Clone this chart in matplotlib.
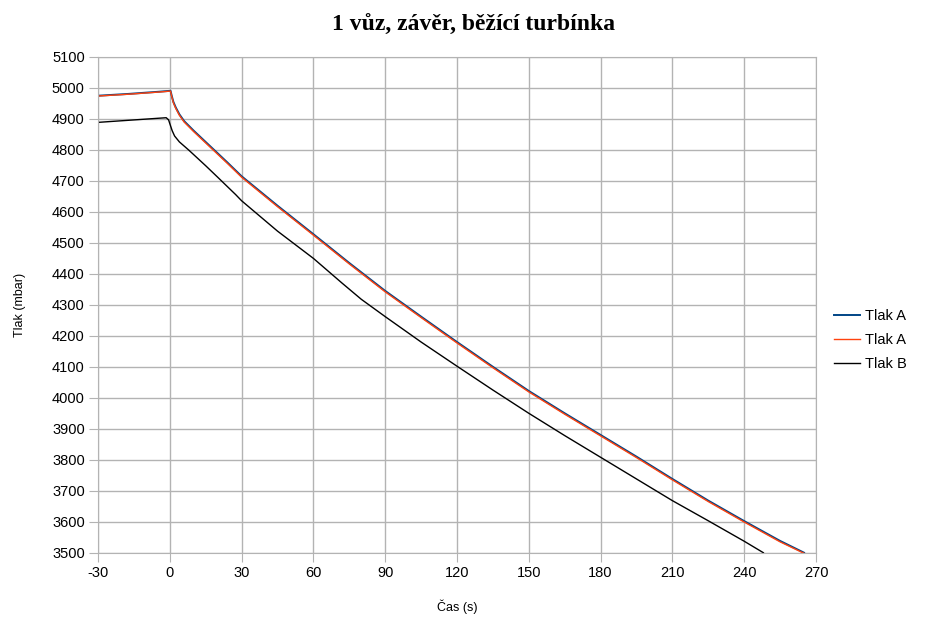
import matplotlib
matplotlib.use("Agg")
import matplotlib.pyplot as plt
import numpy as np

# ---- data ----
t_a = [-30, -17, -4.4, 0.3, 0.8, 1.5, 2.5, 4, 6, 10, 17, 24, 30, 45, 60, 75, 90,
       105, 120, 135, 150, 165, 180, 195, 210, 225, 240, 255, 265]
p_a = [4975, 4981, 4988, 4991, 4975, 4955, 4937, 4915, 4893, 4862, 4811, 4760,
       4715, 4620, 4528, 4435, 4345, 4262, 4180, 4100, 4022, 3950, 3880, 3810,
       3738, 3668, 3602, 3538, 3500]
t_a2 = t_a
p_a2 = [4974, 4980, 4987, 4990, 4973, 4952, 4934, 4912, 4890, 4859, 4808, 4757,
        4712, 4617, 4525, 4432, 4342, 4259, 4177, 4097, 4019, 3947, 3877, 3807,
        3735, 3665, 3599, 3535, 3498]
t_b = [-30, -1.5, -0.5, 0, 1, 2, 4, 8, 15, 20, 27.5, 30, 45, 60, 72, 80, 90, 105,
       120, 135, 150, 165, 180, 195, 210, 225, 240, 248]
p_b = [4889, 4904, 4897, 4885, 4862, 4845, 4826, 4799, 4749, 4712, 4656, 4636,
       4538, 4450, 4370, 4318, 4262, 4180, 4102, 4025, 3950, 3878, 3808, 3738,
       3668, 3603, 3537, 3500]
names = ["Tlak A", "Tlak A", "Tlak B"]
colors = ["#004586", "#ff420e", "#000000"]
x_ticks = list(range(-30, 271, 30))
y_ticks = list(range(3500, 5101, 100))

plt.rcParams['font.family'] = ['Liberation Sans', 'DejaVu Sans']
plt.rcParams['axes.unicode_minus'] = False

fig = plt.figure(figsize=(9.47, 6.18), dpi=100)
ax = fig.add_axes([98/947, 1-552.7/618, (816-98)/947, (552.7-57)/618])

ax.plot(t_a, p_a, color=colors[0], lw=1.4, label=names[0])
ax.plot(t_a2, p_a2, color=colors[1], lw=1.0, label=names[1])
ax.plot(t_b, p_b, color=colors[2], lw=1.0, label=names[2])

ax.set_xlim(-30, 270)
ax.set_ylim(3500, 5100)
ax.set_xticks(x_ticks)
ax.set_yticks(y_ticks)
ax.grid(True, color="#b3b3b3", lw=1.0)
ax.set_axisbelow(True)
for s in ax.spines.values():
    s.set_color("#b3b3b3")
ax.tick_params(axis='both', direction='out', length=6.5, color="#b3b3b3",
               labelsize=10.5, labelcolor="#000000", pad=3)

ax.set_xlabel("Čas (s)", fontsize=9, labelpad=14)
ax.set_ylabel("Tlak (mbar)", fontsize=9, labelpad=19)

fig.suptitle("1 vůz, závěr, běžící turbínka", x=0.5, y=0.976,
             fontsize=17, fontweight='bold', family=['Liberation Serif', 'DejaVu Serif'])

leg = fig.legend(loc='center left', bbox_to_anchor=(0.867, 0.45), frameon=False,
                 fontsize=10.5, handlelength=1.8, handletextpad=0.3, labelspacing=0.7)

fig.savefig("out.png", dpi=100)
